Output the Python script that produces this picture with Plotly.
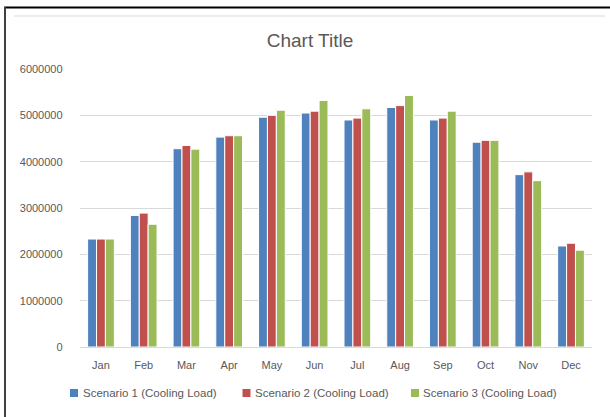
import plotly.graph_objects as go

months = ["Jan", "Feb", "Mar", "Apr", "May", "Jun", "Jul", "Aug", "Sep", "Oct", "Nov", "Dec"]
scenario1 = [2330000, 2840000, 4280000, 4530000, 4960000, 5050000, 4900000, 5170000, 4900000, 4420000, 3720000, 2180000]
scenario2 = [2330000, 2890000, 4350000, 4560000, 5000000, 5090000, 4940000, 5210000, 4940000, 4460000, 3780000, 2240000]
scenario3 = [2330000, 2650000, 4270000, 4560000, 5110000, 5320000, 5140000, 5430000, 5090000, 4460000, 3590000, 2090000]
series_names = ["Scenario 1 (Cooling Load)", "Scenario 2 (Cooling Load)", "Scenario 3 (Cooling Load)"]
colors = ["#4F81BD", "#C0504D", "#9BBB59"]
y_ticks = [0, 1000000, 2000000, 3000000, 4000000, 5000000, 6000000]

W, H = 610, 417
FONT = "Liberation Sans"
GREY = "#595959"

fig = go.Figure()
for name, vals, c in zip(series_names, [scenario1, scenario2, scenario3], colors):
    fig.add_trace(go.Bar(x=months, y=vals, name=name, showlegend=False,
                         marker=dict(color=c, line=dict(color="white", width=1))))

fig.update_layout(
    width=W, height=H,
    margin=dict(l=0, r=0, t=0, b=0, autoexpand=False),
    paper_bgcolor="white", plot_bgcolor="white",
    barmode="group", bargap=0.375, bargroupgap=0,
    font=dict(family=FONT, size=11, color=GREY),
    title=dict(text="Chart Title", x=310 / W, xanchor="center", y=1 - 40 / H, yanchor="middle",
               font=dict(family=FONT, size=19, color=GREY)),
    xaxis=dict(domain=[79.6 / W, 592.4 / W], showgrid=False, showline=True, linecolor="#D9D9D9", linewidth=1,
               ticks="", ticklabelstandoff=8, tickfont=dict(size=11, color=GREY), fixedrange=True,
               automargin=False),
    yaxis=dict(domain=[70 / H, 348 / H], range=[0, 6000000], tickvals=y_ticks,
               ticktext=[str(v) for v in y_ticks], showgrid=True, gridcolor="#D9D9D9", gridwidth=1,
               zeroline=False, showline=False, ticks="", ticklabelstandoff=16,
               tickfont=dict(size=11, color=GREY), automargin=False),
    showlegend=False,
)

# legend drawn as squares + text
sq_x = [70, 242.5, 411]
txt_x = [81, 253, 421]
for name, c, sx, tx in zip(series_names, colors, sq_x, txt_x):
    fig.add_shape(type="rect", xref="paper", yref="paper", x0=sx / W, x1=(sx + 8) / W,
                  y0=1 - 397 / H, y1=1 - 389 / H, fillcolor=c, line=dict(width=0))
    fig.add_annotation(text=name, xref="paper", yref="paper", x=tx / W, y=1 - 393 / H,
                       xanchor="left", yanchor="middle", showarrow=False,
                       font=dict(family=FONT, size=11.5, color=GREY))

# chart frame lines
fig.add_shape(type="line", xref="paper", yref="paper", x0=4 / W, x1=1, y0=1 - 7.5 / H, y1=1 - 7.5 / H,
              line=dict(color="black", width=2))
fig.add_shape(type="line", xref="paper", yref="paper", x0=5 / W, x1=5 / W, y0=0, y1=1 - 7 / H,
              line=dict(color="#404040", width=2))
fig.add_shape(type="line", xref="paper", yref="paper", x0=14 / W, x1=605 / W, y0=1 - 16 / H, y1=1 - 16 / H,
              line=dict(color="#D9D9D9", width=1))

fig.write_html("out.html")
